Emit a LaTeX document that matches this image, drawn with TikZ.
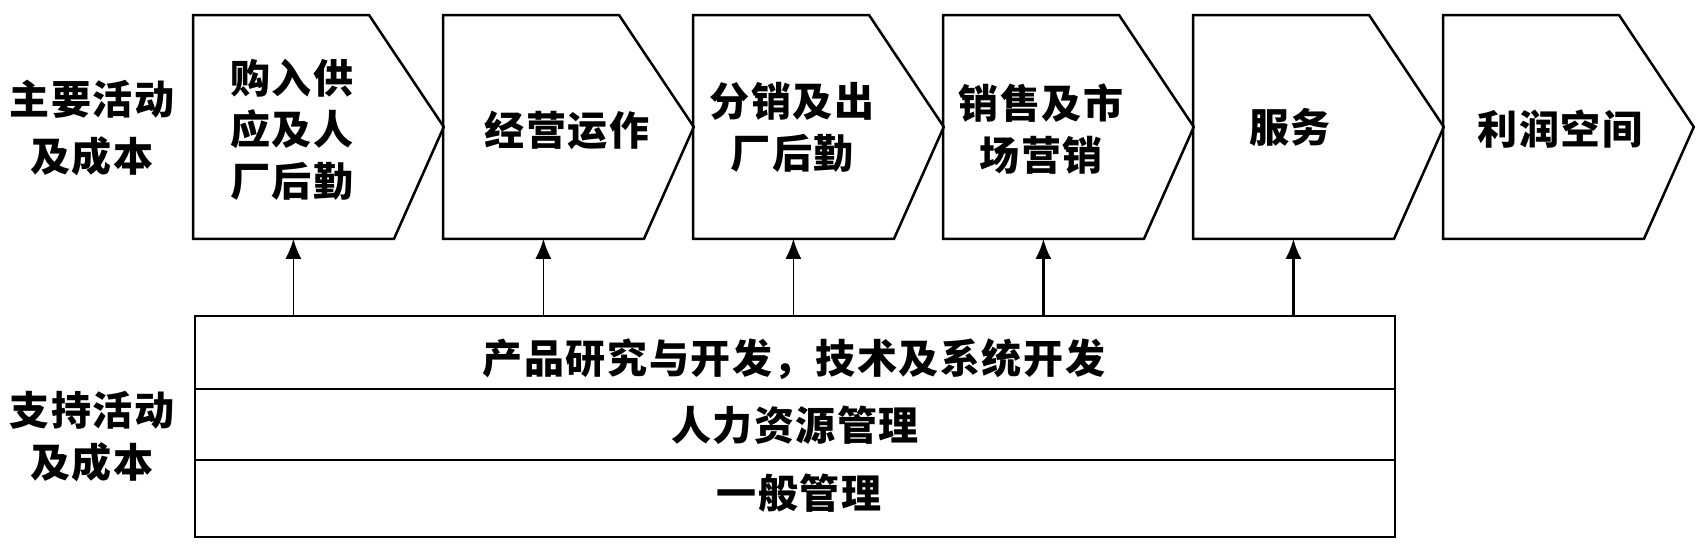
\documentclass[tikz,border=0pt]{standalone}
\usepackage{fontspec}
\newfontfamily\cjk{Noto Sans CJK SC}[LetterSpace=4]
\usetikzlibrary{arrows.meta,calc}
\tikzset{
  chev/.style={line width=1.25pt, line join=miter},
  boxrect/.style={draw=none, inner sep=0pt, minimum width=100pt, minimum height=111.5pt, anchor=north west},
  rowbox/.style={draw, line width=1.1pt, inner sep=0pt, minimum width=600pt, anchor=north west},
  txt/.style={font=\cjk\bfseries\fontsize{20}{25.8}\selectfont, align=center, inner sep=0pt},
  arr/.style={-{Latex[length=10pt,width=8pt]}, line width=0.9pt},
  arrthick/.style={arr, line width=1.4pt}
}
\begin{document}
\begin{tikzpicture}[x=0.5pt,y=-0.5pt]
\useasboundingbox (0,0) rectangle (1704,546);
% primary activity boxes
\node[boxrect] (b1) at (193,15) {};
\node[boxrect] (b2) at (443,15) {};
\node[boxrect] (b3) at (693,15) {};
\node[boxrect] (b4) at (943,15) {};
\node[boxrect] (b5) at (1193,15) {};
\node[boxrect] (b6) at (1443,15) {};
\foreach \b in {b1,b2,b3,b4,b5,b6}{
  \draw[chev] (\b.north west) -- ++(176,0) -- ($(\b.east)+(50,0)$) -- ($(\b.south west)+(201,0)$) -- (\b.south west) -- cycle;
}
\node[txt] (t1) at (292,129.5) {购入供\\应及人\\厂后勤};
\node[txt] (t2) at (567,130) {经营运作};
\node[txt] (t3) at (792,127.5) {分销及出\\厂后勤};
\node[txt] (t4) at (1041,129) {销售及市\\场营销};
\node[txt] (t5) at (1290,127) {服务};
\node[txt] (t6) at (1560,129) {利润空间};
% left labels
\node[txt, font=\cjk\bfseries\fontsize{20}{28.2}\selectfont] (l1) at (92,128) {主要活动\\及成本};
\node[txt, font=\cjk\bfseries\fontsize{20}{26}\selectfont] (l2) at (92,437) {支持活动\\及成本};
% support activities
\node[rowbox, minimum height=36.5pt] (r1) at (194,315) {};
\node[rowbox, minimum height=35.5pt] (r2) at (194,388) {};
\node[rowbox, minimum height=38.5pt] (r3) at (194,459) {};
\node[txt] (s1) at (794,359) {产品研究与开发，技术及系统开发};
\node[txt] (s2) at (795,425) {人力资源管理};
\node[txt] (s3) at (799,493) {一般管理};
% arrows
\draw[arr] (r1.north -| b1.south) -- (b1.south);
\draw[arr] (r1.north -| b2.south) -- (b2.south);
\draw[arr] (r1.north -| b3.south) -- (b3.south);
\draw[arrthick] (r1.north -| b4.south) -- (b4.south);
\draw[arrthick] (r1.north -| b5.south) -- (b5.south);
\end{tikzpicture}
\end{document}
